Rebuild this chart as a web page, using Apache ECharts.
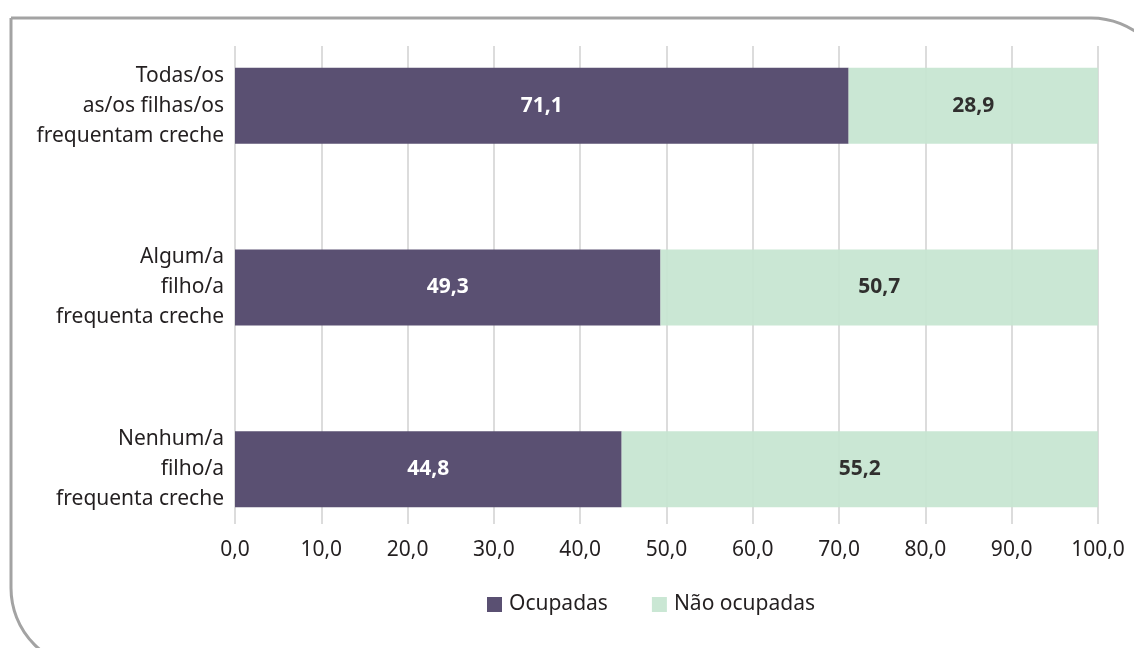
<!DOCTYPE html>
<html>
<head>
<meta charset="utf-8">
<style>
  html, body { margin: 0; padding: 0; background: #fff; }
  #chart { width: 1134px; height: 648px; }
</style>
<script src="https://cdn.jsdelivr.net/npm/echarts@6/dist/echarts.min.js"></script>
</head>
<body>
<div id="chart"></div>
<script>
const categories = [
    'Todas/os\nas/os filhas/os\nfrequentam creche',
    'Algum/a\nfilho/a\nfrequenta creche',
    'Nenhum/a\nfilho/a\nfrequenta creche'
];
const ocupadas    = [71.1, 49.3, 44.8];
const naoOcupadas = [28.9, 50.7, 55.2];
const seriesNames = ['Ocupadas', 'Não ocupadas'];

const FONT = '"Noto Sans", "Open Sans", sans-serif';
const TEXT = '#231f20';

const chart = echarts.init(document.getElementById('chart'), null, { renderer: 'canvas' });

// values shown with a decimal comma, as in the source
const fmt = (p) => p.value.toFixed(1).replace('.', ',');

chart.setOption({
    animation: false,
    backgroundColor: '#fff',
    graphic: [{
        type: 'rect',
        shape: { x: 11, y: 18, width: 1160, height: 650, r: [0, 80, 0, 80] },
        style: { fill: 'none', stroke: '#a3a3a3', lineWidth: 3 },
        z: -10
    }],
    grid: [
        // bars
        { left: 235, right: 36, top: 15, bottom: 88 },
        // gridlines + tick labels
        { left: 235, right: 36, top: 46, bottom: 124 }
    ],
    xAxis: [
        { gridIndex: 0, type: 'value', min: 0, max: 100, interval: 10, show: false },
        {
            gridIndex: 1, type: 'value', min: 0, max: 100, interval: 10,
            axisLine: { show: false },
            axisTick: { show: false },
            splitLine: { show: true, lineStyle: { color: '#dcdcdc', width: 2 } },
            axisLabel: {
                margin: 16,
                fontFamily: FONT, fontSize: 21, color: TEXT,
                formatter: (v) => v.toFixed(1).replace('.', ',')
            }
        }
    ],
    yAxis: [
        {
            gridIndex: 0, type: 'category', data: categories, inverse: true,
            axisLine: { show: false },
            axisTick: { show: false },
            axisLabel: {
                margin: 11,
                fontFamily: FONT, fontSize: 21, color: TEXT, lineHeight: 30, align: 'right'
            }
        },
        { gridIndex: 1, type: 'category', data: categories, show: false }
    ],
    legend: {
        left: 482, top: 589,
        itemWidth: 15, itemHeight: 15, itemGap: 44,
        icon: 'rect',
        textStyle: { fontFamily: FONT, fontSize: 21, color: TEXT, padding: [0, 0, 0, 2] },
        data: seriesNames
    },
    series: [
        {
            name: seriesNames[0], type: 'bar', stack: 'total',
            xAxisIndex: 0, yAxisIndex: 0, barWidth: 76,
            data: ocupadas, z: 3,
            itemStyle: { color: '#5a5072' },
            label: {
                show: true, position: 'inside', formatter: fmt,
                fontFamily: FONT, fontSize: 21, fontWeight: 'bold', color: '#fff'
            }
        },
        {
            name: seriesNames[1], type: 'bar', stack: 'total',
            xAxisIndex: 0, yAxisIndex: 0, barWidth: 76,
            data: naoOcupadas, z: 3,
            itemStyle: { color: '#c5e5d0', opacity: 0.92 },
            label: {
                show: true, position: 'inside', formatter: fmt,
                fontFamily: FONT, fontSize: 21, fontWeight: 'bold', color: TEXT
            }
        }
    ]
});

new ResizeObserver(() => chart.resize()).observe(document.getElementById('chart'));
</script>
</body>
</html>
